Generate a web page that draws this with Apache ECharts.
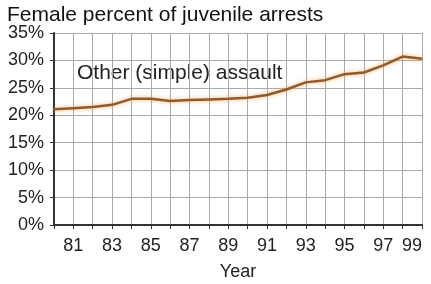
<!DOCTYPE html>
<html>
<head>
<meta charset="utf-8">
<script src="https://cdn.jsdelivr.net/npm/echarts@6/dist/echarts.min.js"></script>
<style>
  html, body { margin: 0; padding: 0; background: #fff; }
  #myChart { width: 431px; height: 284px; }
</style>
</head>
<body>
<div id="myChart"></div>
<script>
// years 1980..1999 (two-digit labels)
var years = ['80', '81', '82', '83', '84', '85', '86', '87', '88', '89',
             '90', '91', '92', '93', '94', '95', '96', '97', '98', '99'];
// female percent of juvenile arrests, other (simple) assault
var assaultPct = [21.1, 21.3, 21.5, 21.9, 23.0, 23.0, 22.6, 22.8, 22.9, 23.0,
                  23.2, 23.7, 24.7, 26.0, 26.4, 27.5, 27.8, 29.1, 30.7, 30.3];
var yTicks = [0, 5, 10, 15, 20, 25, 30, 35];

var dom = document.getElementById('myChart');
var myChart = echarts.init(dom);
var font = 'Liberation Sans, Arial, sans-serif';

var option = {
  animation: false,
  title: {
    text: 'Female percent of juvenile arrests',
    left: 2,
    top: 0,
    textStyle: { fontFamily: font, fontSize: 21, fontWeight: 'normal', color: '#111' }
  },
  grid: { left: 54, right: 9, top: 33, bottom: 59, outerBoundsMode: 'none', containLabel: false },
  xAxis: {
    type: 'category',
    data: years,
    boundaryGap: false,
    name: 'Year',
    nameLocation: 'middle',
    nameGap: 38,
    nameTextStyle: { fontFamily: font, fontSize: 18, color: '#222' },
    axisLine: { lineStyle: { color: '#333', width: 2 } },
    axisTick: { show: true, interval: 0, length: 4, lineStyle: { color: '#333' } },
    axisLabel: {
      interval: function (i) { return i % 2 === 1; },
      fontFamily: font, fontSize: 18, color: '#222', margin: 12,
      alignMaxLabel: 'right'
    },
    splitLine: { show: true, interval: 0, lineStyle: { color: '#aaa', width: 1 } }
  },
  yAxis: {
    type: 'value',
    min: yTicks[0],
    max: yTicks[yTicks.length - 1],
    interval: 5,
    axisLine: { show: true, lineStyle: { color: '#333', width: 2 } },
    axisTick: { show: true, length: 4, lineStyle: { color: '#333' } },
    axisLabel: { formatter: '{value}%', fontFamily: font, fontSize: 18, color: '#222', margin: 10 },
    splitLine: { lineStyle: { color: '#aaa', width: 1 } }
  },
  graphic: [{
    type: 'text',
    left: 77,
    top: 63,
    style: { text: 'Other (simple) assault', font: '21px ' + font, fill: '#222' }
  }],
  series: [{
    type: 'line',
    data: assaultPct,
    symbol: 'none',
    lineStyle: {
      color: '#8f5b2e',
      width: 2.5,
      shadowColor: 'rgba(245,170,90,0.9)',
      shadowBlur: 4
    }
  }]
};

myChart.setOption(option);
window.addEventListener('resize', myChart.resize);
</script>
</body>
</html>
